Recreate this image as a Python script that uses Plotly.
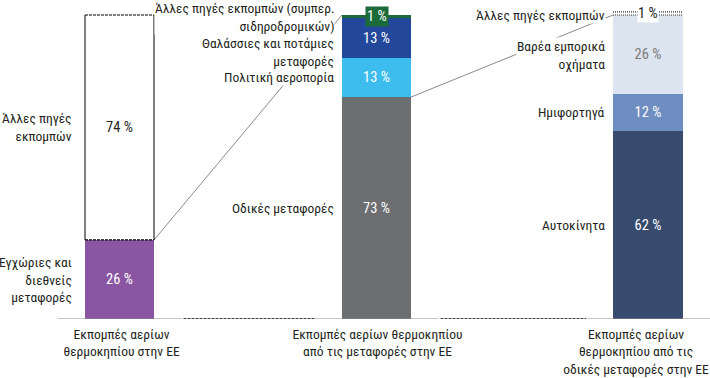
import plotly.graph_objects as go

# ---------------- data ----------------
categories = [
    "Εκπομπές αερίων<br>θερμοκηπίου στην ΕΕ",
    "Εκπομπές αερίων θερμοκηπίου<br>από τις μεταφορές στην ΕΕ",
    "Εκπομπές αερίων<br>θερμοκηπίου από τις<br>οδικές μεταφορές στην ΕΕ",
]
eu_labels = ["Εγχώριες και<br>διεθνείς<br>μεταφορές", "Άλλες πηγές<br>εκπομπών"]
eu_values = [26, 74]
transport_labels = [
    "Οδικές μεταφορές",
    "Πολιτική αεροπορία",
    "Θαλάσσιες και ποτάμιες<br>μεταφορές",
    "Άλλες πηγές εκπομπών (συμπερ.<br>σιδηροδρομικών)",
]
transport_values = [73, 13, 13, 1]
road_labels = ["Αυτοκίνητα", "Ημιφορτηγά", "Βαρέα εμπορικά<br>οχήματα", "Άλλες πηγές εκπομπών"]
road_values = [62, 12, 26, 1]

# ---------------- layout / style ----------------
W, H = 710, 378
FONT = "Roboto Condensed, DejaVu Sans Condensed, sans-serif"
FS = 13.5
FS_VAL = 14.5
TXT = "#231f20"
bar_pos = [119.5, 376.5, 648]
bar_w = [69, 69, 70]
category_label_pos = [121.5, 377.5, 636]
label_gap = [12, 7, 7]
eu_colors = ["#8a56a3", "#ffffff"]
transport_colors = ["#6d6e71", "#3dbdee", "#22479b", "#1b6b3a"]
road_colors = ["#364b6e", "#6e8dc1", "#dce4ef", "#ffffff"]
eu_text_colors = ["#ffffff", TXT]
transport_text_colors = ["#ffffff", "#ffffff", "#ffffff", "#ffffff"]
road_text_colors = ["#ffffff", "#ffffff", "#7b7b7b", TXT]
# label vertical positions in pixels (None = centre of segment)
eu_label_py = [None, None]
transport_label_py = [None, 77, 52, 17]
road_label_py = [None, None, None, 15]

PLOT_H = 319  # pixel y of the baseline
PX_PER_PCT = 3.04
y_top = PLOT_H / PX_PER_PCT


def py(p):
    return (PLOT_H - p) / PX_PER_PCT


columns = [
    (eu_labels, eu_values, eu_colors, eu_text_colors, eu_label_py),
    (transport_labels, transport_values, transport_colors, transport_text_colors, transport_label_py),
    (road_labels, road_values, road_colors, road_text_colors, road_label_py),
]

fig = go.Figure()
annotations = []
shapes = []

for ci, (labels, values, colors, tcolors, lpy) in enumerate(columns):
    base = 0
    for si, (lab, v, col, tc) in enumerate(zip(labels, values, colors, tcolors)):
        small = v < 3
        fig.add_trace(go.Bar(
            x=[bar_pos[ci]], y=[v], base=[base], width=[bar_w[ci]],
            marker=dict(color=col, line=dict(width=0)),
            text=[None if small else f"{v} %"],
            textposition="inside", insidetextanchor="middle", textangle=0,
            insidetextfont=dict(family=FONT, size=FS_VAL, color=tc),
            hoverinfo="skip", showlegend=False,
        ))
        yc = base + v / 2
        ly = yc if lpy[si] is None else py(lpy[si])
        annotations.append(dict(
            x=bar_pos[ci] - bar_w[ci] / 2 - label_gap[ci], y=ly, xref="x", yref="y",
            text=lab, showarrow=False, xanchor="right", yanchor="middle", align="right",
            font=dict(family=FONT, size=FS, color=TXT), bgcolor="#ffffff", borderpad=0,
        ))
        if small:
            if ci == 1:
                annotations.append(dict(
                    x=bar_pos[ci], y=yc, xref="x", yref="y", text=f"{v} %", showarrow=False,
                    font=dict(family=FONT, size=FS_VAL, color="#ffffff"), bgcolor=col, borderpad=1,
                ))
            else:
                x0 = bar_pos[ci] - bar_w[ci] / 2
                x1 = bar_pos[ci] + bar_w[ci] / 2
                for yy in (base, base + v):
                    shapes.append(dict(type="line", xref="x", yref="y", x0=x0, x1=x1, y0=yy, y1=yy,
                                       line=dict(color="#333333", width=1.2, dash="1px,1px")))
                annotations.append(dict(
                    x=bar_pos[ci], y=yc, xref="x", yref="y", text=f"{v} %", showarrow=False,
                    font=dict(family=FONT, size=FS_VAL, color=TXT), bgcolor="#ffffff", borderpad=0,
                ))
        base += v

# outline of the "other sources" segment in the first column
x0 = bar_pos[0] - bar_w[0] / 2
x1 = bar_pos[0] + bar_w[0] / 2
y_low = eu_values[0]
y_high = eu_values[0] + eu_values[1]
for xx in (x0, x1):
    shapes.append(dict(type="line", xref="x", yref="y", x0=xx, x1=xx, y0=y_low, y1=y_high,
                       line=dict(color="#000000", width=1)))
for yy in (y_low, y_high):
    shapes.append(dict(type="line", xref="x", yref="y", x0=x0, x1=x1, y0=yy, y1=yy,
                       line=dict(color="#000000", width=1.2, dash="3px,1px")))

# connector lines (drawn below the labels)
conn = [
    (bar_pos[0] + bar_w[0] / 2, eu_values[0], bar_pos[1] - bar_w[1] / 2, sum(transport_values)),
    (bar_pos[1] + bar_w[1] / 2, transport_values[0], bar_pos[2] - bar_w[2] / 2, sum(road_values[:3])),
]
for a, b, c, d in conn:
    shapes.append(dict(type="line", xref="x", yref="y", x0=a, y0=b, x1=c, y1=d, layer="below",
                       line=dict(color="#8a8a8a", width=1)))

# baseline: solid under each bar, dashed between
SPAN = 62
segs = []
for p in bar_pos:
    segs.append((p - SPAN, min(p + SPAN, W)))
for i, (a, b) in enumerate(segs):
    shapes.append(dict(type="line", xref="x", yref="y", x0=a, x1=b, y0=0, y1=0,
                       line=dict(color="#8c8c8c", width=1)))
    if i < len(segs) - 1:
        shapes.append(dict(type="line", xref="x", yref="y", x0=b + 2, x1=segs[i + 1][0], y0=0, y1=0,
                           line=dict(color="#000000", width=1.6, dash="3px,1px")))

fig.update_layout(
    width=W, height=H,
    margin=dict(l=0, r=0, t=0, b=H - PLOT_H, autoexpand=False),
    barmode="overlay", bargap=0,
    plot_bgcolor="#ffffff", paper_bgcolor="#ffffff",
    font=dict(family=FONT, size=FS, color=TXT),
    xaxis=dict(range=[0, W], showgrid=False, zeroline=False, showline=False, ticks="",
               tickvals=category_label_pos, ticktext=categories,
               tickfont=dict(family=FONT, size=FS, color=TXT),
               ticklabelstandoff=5, ticklabeloverflow="allow", automargin=False, fixedrange=True),
    yaxis=dict(range=[0, y_top], showgrid=False, zeroline=False, showline=False,
               showticklabels=False, ticks="", automargin=False, fixedrange=True),
    annotations=annotations,
    shapes=shapes,
)

fig.write_html("out.html", config={"displayModeBar": False},
               post_script="document.body.style.margin='0';document.body.style.overflow='hidden';")
